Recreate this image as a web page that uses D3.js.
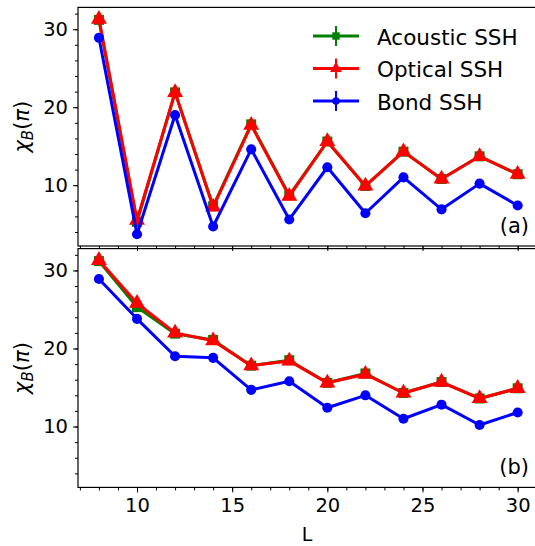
<!DOCTYPE html>
<html>
<head>
<meta charset="utf-8">
<script src="https://cdn.jsdelivr.net/npm/d3@7"></script>
<style>
  body { margin: 0; background: #fff; }
  text { font-family: "DejaVu Sans", sans-serif; fill: #000; }
</style>
</head>
<body>
<div id="chart"></div>
<script>
// chain length L
var L = [8, 10, 12, 14, 16, 18, 20, 22, 24, 26, 28, 30];

// panel (a)
var acousticA = [31.2, 5.3, 21.9, 7.3, 17.8, 8.7, 15.6, 9.9, 14.3, 10.8, 13.7, 11.4];
var opticalA  = [31.3, 5.5, 21.9, 7.2, 17.7, 8.6, 15.6, 9.9, 14.3, 10.8, 13.7, 11.4];
var bondA     = [28.9, 3.7, 19.0, 4.7, 14.6, 5.6, 12.3, 6.4, 11.0, 6.9, 10.2, 7.4];

// panel (b)
var acousticB = [31.2, 25.3, 21.9, 21.1, 17.8, 18.5, 15.6, 16.8, 14.3, 15.7, 13.6, 14.9];
var opticalB  = [31.3, 25.8, 22.0, 21.0, 17.8, 18.4, 15.6, 16.7, 14.3, 15.7, 13.6, 14.9];
var bondB     = [28.9, 23.8, 19.0, 18.8, 14.7, 15.8, 12.4, 14.0, 11.0, 12.8, 10.2, 11.8];

var seriesNames = ["Acoustic SSH", "Optical SSH", "Bond SSH"];
var colors = ["green", "red", "blue"];
var symbols = [d3.symbolSquare, d3.symbolTriangle, d3.symbolCircle];
var symSize = [100, 110, 80];

var W = 535, H = 546;
var left = 78, right = 538.6;

var x = d3.scaleLinear().domain([6.9, 31.1]).range([left, right]);

var svg = d3.select("#chart").append("svg")
    .attr("width", W)
    .attr("height", H);

svg.append("rect").attr("width", W).attr("height", H).attr("fill", "#fff");

var panels = [
  {top: 7.4, bottom: 246, data: [acousticA, opticalA, bondA], tag: "(a)", showX: false},
  {top: 248.6, bottom: 487.4, data: [acousticB, opticalB, bondB], tag: "(b)", showX: true}
];

panels.forEach(function(p) {
  var y = d3.scaleLinear().domain([2.2, 32.8]).range([p.bottom, p.top]);
  var g = svg.append("g");

  // minor ticks
  var yMinor = d3.axisLeft(y).tickValues(d3.range(4, 33, 2)).tickSize(3).tickFormat("");
  var xMinor = d3.axisBottom(x).tickValues(d3.range(7, 32, 1)).tickSize(3).tickFormat("");

  g.append("g").attr("transform", "translate(" + left + ",0)").call(yMinor);
  g.append("g").attr("transform", "translate(0," + p.bottom + ")").call(xMinor);

  var yAxis = d3.axisLeft(y).tickValues([10, 20, 30]).tickSize(5).tickPadding(5);
  var ya = g.append("g").attr("transform", "translate(" + left + ",0)").call(yAxis);
  ya.selectAll("text").style("font-size", "19.5px");

  var xAxis = d3.axisBottom(x).tickValues([10, 15, 20, 25, 30]).tickSize(5).tickPadding(6);
  if (!p.showX) xAxis.tickFormat("");
  var xa = g.append("g").attr("transform", "translate(0," + p.bottom + ")").call(xAxis);
  xa.selectAll("text").style("font-size", "19.5px");

  g.selectAll(".domain").remove();
  g.selectAll(".tick line").attr("stroke", "#000").attr("stroke-width", 1);

  // frame
  g.append("rect")
    .attr("x", left).attr("y", p.top)
    .attr("width", right - left).attr("height", p.bottom - p.top)
    .attr("fill", "none").attr("stroke", "#000").attr("stroke-width", 1.2);

  var line = d3.line()
    .x(function(d, i) { return x(L[i]); })
    .y(function(d) { return y(d); });

  p.data.forEach(function(vals, k) {
    g.append("path")
      .datum(vals)
      .attr("d", line)
      .attr("fill", "none")
      .attr("stroke", colors[k])
      .attr("stroke-width", 3)
      .attr("stroke-linejoin", "round");

    g.selectAll(".m" + k)
      .data(vals)
      .enter().append("path")
      .attr("class", "m" + k)
      .attr("transform", function(d, i) { return "translate(" + x(L[i]) + "," + y(d) + ")"; })
      .attr("d", d3.symbol().type(symbols[k]).size(symSize[k]))
      .attr("fill", colors[k]);
  });

  g.append("text")
    .attr("x", 529)
    .attr("y", p.bottom - 13)
    .attr("text-anchor", "end")
    .style("font-size", "21px")
    .text(p.tag);

  // y label
  var lab = g.append("text")
    .attr("transform", "translate(29," + ((p.top + p.bottom) / 2) + ") rotate(-90)")
    .attr("text-anchor", "middle")
    .style("font-size", "21px");
  lab.append("tspan").style("font-style", "italic").text("χ");
  lab.append("tspan").style("font-style", "italic").style("font-size", "15px").attr("dy", 4).text("B");
  lab.append("tspan").attr("dy", -4).text("(");
  lab.append("tspan").style("font-style", "italic").text("π");
  lab.append("tspan").text(")");
});

// x label
svg.append("text")
  .attr("x", 307)
  .attr("y", 541)
  .attr("text-anchor", "middle")
  .style("font-size", "19px")
  .text("L");

// legend
var legend = svg.append("g");
seriesNames.forEach(function(name, k) {
  var cy = 36 + k * 32.5;
  var row = legend.append("g");
  row.append("line")
    .attr("x1", 313).attr("x2", 359).attr("y1", cy).attr("y2", cy)
    .attr("stroke", colors[k]).attr("stroke-width", 3);
  row.append("line")
    .attr("x1", 336).attr("x2", 336).attr("y1", cy - 10).attr("y2", cy + 10)
    .attr("stroke", colors[k]).attr("stroke-width", 2);
  row.append("path")
    .attr("transform", "translate(336," + cy + ")")
    .attr("d", d3.symbol().type(symbols[k]).size(symSize[k] * 0.55))
    .attr("fill", colors[k]);
  row.append("text")
    .attr("x", 377)
    .attr("y", cy + 8.5)
    .style("font-size", "21.5px")
    .text(name);
});
</script>
</body>
</html>
